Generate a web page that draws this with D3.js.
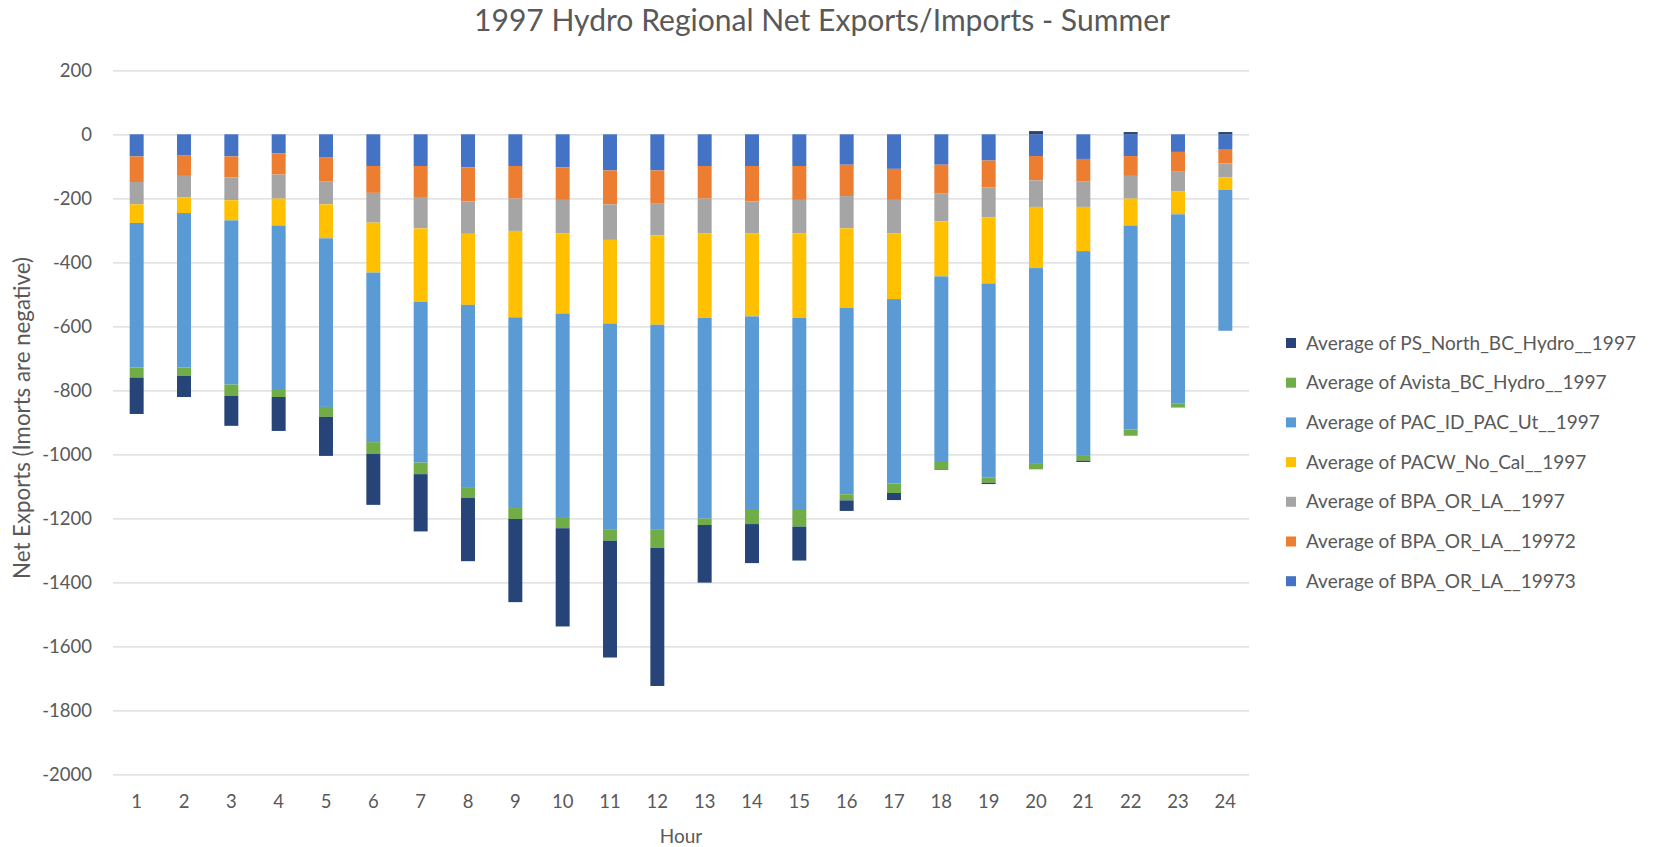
<!DOCTYPE html>
<html>
<head>
<meta charset="utf-8">
<script src="https://cdn.jsdelivr.net/npm/d3@7"></script>
<style>
  html, body { margin: 0; padding: 0; background: #fff; }
  svg { display: block; font-family: Lato, "Open Sans", sans-serif; }
</style>
</head>
<body>
<svg id="chart" width="1659" height="847"></svg>
<script>
// ---- data ----
const hours = ["1","2","3","4","5","6","7","8","9","10","11","12","13","14","15","16","17","18","19","20","21","22","23","24"];

const seriesNames = [
  "Average of BPA_OR_LA__19973",
  "Average of BPA_OR_LA__19972",
  "Average of BPA_OR_LA__1997",
  "Average of PACW_No_Cal__1997",
  "Average of PAC_ID_PAC_Ut__1997",
  "Average of Avista_BC_Hydro__1997",
  "Average of PS_North_BC_Hydro__1997"
];

const bpa19973 = [-69,-65,-69,-60,-73,-99,-99,-103,-99,-103,-113,-113,-99,-99,-99,-95,-108,-95,-82,-68,-77,-68,-55,-46];
const bpa19972 = [-80,-65,-66,-66,-75,-84,-97,-107,-102,-102,-106,-102,-102,-111,-106,-98,-97,-89,-84,-76,-71,-62,-62,-45];
const bpa1997  = [-70,-67,-71,-75,-71,-93,-98,-101,-101,-104,-111,-101,-108,-99,-104,-101,-104,-88,-93,-83,-79,-71,-62,-44];
const pacwNoCal = [-58,-49,-63,-84,-106,-156,-230,-222,-270,-251,-261,-279,-265,-260,-265,-248,-206,-172,-207,-191,-138,-84,-71,-39];
const pacIdPacUt = [-452,-483,-513,-514,-527,-530,-502,-572,-596,-636,-645,-641,-627,-605,-600,-583,-576,-580,-607,-612,-640,-637,-592,-440];
const avista = [-31,-26,-35,-22,-31,-36,-36,-31,-34,-35,-34,-56,-20,-44,-52,-19,-30,-22,-16,-17,-15,-20,-12,0];
const psNorth = [-114,-66,-94,-106,-122,-160,-179,-198,-260,-307,-365,-432,-180,-122,-106,-33,-22,-2,-4,10,-4,7,0,7];

const seriesValues = [bpa19973, bpa19972, bpa1997, pacwNoCal, pacIdPacUt, avista, psNorth];
const seriesColors = ["#4472C4","#ED7D31","#A5A5A5","#FFC000","#5B9BD5","#70AD47","#264478"];

const yTicks = [200,0,-200,-400,-600,-800,-1000,-1200,-1400,-1600,-1800,-2000];

const titleText = "1997 Hydro Regional Net Exports/Imports - Summer";
const xTitle = "Hour";
const yTitle = "Net Exports (Imorts are negative)";

// ---- build table ----
const table = hours.map((h, i) => {
  const row = { hour: h };
  seriesNames.forEach((s, j) => row[s] = seriesValues[j][i]);
  return row;
});

const svg = d3.select("#chart");
const textColor = "#595959";

const plot = { left: 113, right: 1249, top: 70.3, bottom: 774.3 };

const x = d3.scaleBand().domain(hours).range([plot.left, plot.right])
  .paddingInner(0.705).paddingOuter(0.3525);
const y = d3.scaleLinear().domain([-2000, 200]).range([plot.bottom, plot.top]);

function fitWidth(sel, target) {
  const node = sel.node();
  let fs = parseFloat(sel.attr("font-size"));
  for (let k = 0; k < 3; k++) {
    const w = node.getComputedTextLength();
    fs = fs * target / w;
    sel.attr("font-size", fs);
  }
}

// gridlines via axis
const gridAxis = d3.axisLeft(y).tickValues(yTicks)
  .tickSize(-(plot.right - plot.left)).tickFormat("");
const grid = svg.append("g").attr("transform", `translate(${plot.left},0)`).call(gridAxis);
grid.select(".domain").remove();
grid.selectAll(".tick line").attr("stroke", "#D9D9D9").attr("stroke-width", 1.3);

// y tick labels (plain hyphen minus, as in the original)
const yAxis = d3.axisLeft(y).tickValues(yTicks).tickSize(0).tickPadding(0).tickFormat(d => String(d));
const yg = svg.append("g").attr("transform", `translate(92,0)`).call(yAxis);
yg.select(".domain").remove();
yg.selectAll("text").attr("fill", textColor).attr("font-size", 18.5)
  .attr("font-family", "Lato, sans-serif").attr("dy", "0.34em");

// x tick labels
const xAxis = d3.axisBottom(x).tickSize(0).tickPadding(0);
const xg = svg.append("g").attr("transform", `translate(0,${plot.bottom})`).call(xAxis);
xg.select(".domain").remove();
xg.selectAll("text").attr("fill", textColor).attr("font-size", 18.5)
  .attr("font-family", "Lato, sans-serif").attr("dy", null).attr("y", 34);

// stacked bars
const stack = d3.stack().keys(seriesNames).offset(d3.stackOffsetDiverging);
const stacked = stack(table);

svg.append("g").selectAll("g")
  .data(stacked)
  .join("g")
  .attr("fill", (d, i) => seriesColors[i])
  .selectAll("rect")
  .data(d => d)
  .join("rect")
  .attr("x", d => x(d.data.hour))
  .attr("width", x.bandwidth())
  .attr("y", d => y(Math.max(d[0], d[1])))
  .attr("height", d => Math.abs(y(d[0]) - y(d[1])));

// title
const title = svg.append("text")
  .attr("x", 822).attr("y", 31)
  .attr("text-anchor", "middle")
  .attr("fill", textColor)
  .attr("font-size", 26)
  .attr("font-weight", 400)
  .text(titleText);
fitWidth(title, 696);

// x axis title
svg.append("text")
  .attr("x", (plot.left + plot.right) / 2).attr("y", 843)
  .attr("text-anchor", "middle")
  .attr("fill", textColor)
  .attr("font-size", 19)
  .text(xTitle);

// y axis title
const yt = svg.append("text")
  .attr("transform", `translate(30,418) rotate(-90)`)
  .attr("text-anchor", "middle")
  .attr("fill", textColor)
  .attr("font-size", 19)
  .text(yTitle);
fitWidth(yt, 322);

// legend (reverse order)
const legendItems = seriesNames.map((n, i) => ({ name: n, color: seriesColors[i] })).reverse();
const lg = svg.append("g");
const items = lg.selectAll("g").data(legendItems).join("g")
  .attr("transform", (d, i) => `translate(1286,${343 + i * 39.7})`);
items.append("rect").attr("x", 0).attr("y", -5).attr("width", 10).attr("height", 10)
  .attr("fill", d => d.color);
const ltexts = items.append("text").attr("x", 20).attr("dy", "0.35em")
  .attr("fill", textColor).attr("font-size", 18).text(d => d.name);
const first = ltexts.filter((d, i) => i === 0);
fitWidth(first, 330);
ltexts.attr("font-size", first.attr("font-size"));
</script>
</body>
</html>
